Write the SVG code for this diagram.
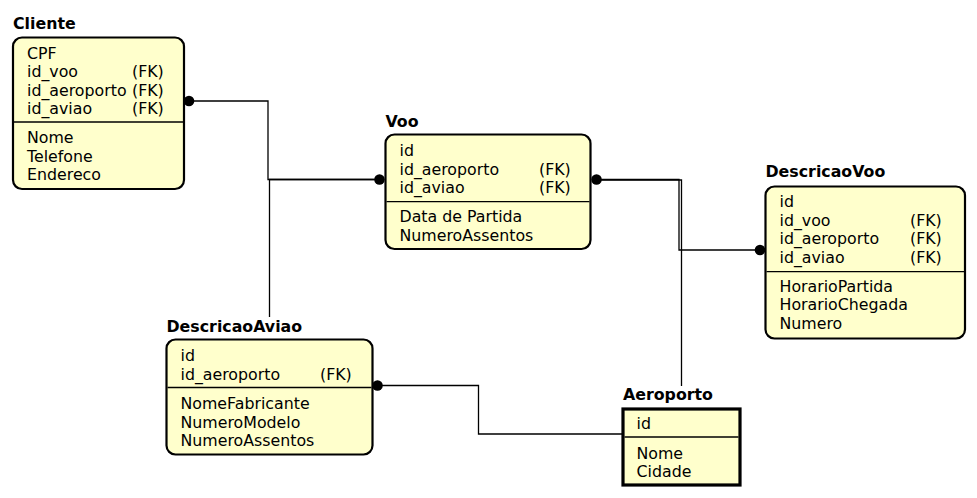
<svg xmlns="http://www.w3.org/2000/svg" width="977" height="498" viewBox="0 0 977 498">
<style>
.box{fill:#ffffcc;stroke:#000;stroke-width:2.2}
.sq{fill:#ffffcc;stroke:#000;stroke-width:3.2}
.div{stroke:#000;stroke-width:1.3}
.t{font-family:"DejaVu Sans",sans-serif;font-size:15.8px;fill:#000}
.h{font-family:"DejaVu Sans",sans-serif;font-size:15.8px;font-weight:bold;fill:#000}
.c{fill:none;stroke:#000;stroke-width:1.3}
.dot{fill:#000}
</style>
<rect width="977" height="498" fill="#fff"/>
<g id="connectors">
<polyline class="c" points="189,101 268,101 268,179.5 380,179.5"/>
<polyline class="c" points="380,179.5 269.5,179.5 269.5,317"/>
<polyline class="c" points="596,179.5 679,179.5 679,250 760,250"/>
<polyline class="c" points="596,180 681.5,180 681.5,386"/>
<polyline class="c" points="377,385.5 478.5,385.5 478.5,434 622,434"/>
<circle class="dot" cx="189" cy="101" r="5.3"/>
<circle class="dot" cx="379.5" cy="179.5" r="5.3"/>
<circle class="dot" cx="596.5" cy="179.5" r="5.3"/>
<circle class="dot" cx="760" cy="250" r="5.3"/>
<circle class="dot" cx="377.5" cy="385.5" r="5.3"/>
</g>
<g id="Cliente">
<text class="h" x="13" y="28.5">Cliente</text>
<rect class="box" x="13" y="37.5" width="171" height="151.5" rx="9"/>
<line class="div" x1="14" y1="122" x2="183" y2="122"/>
<text class="t" x="27" y="58.5">CPF</text>
<text class="t" x="27" y="77">id_voo</text><text class="t" x="132" y="77">(FK)</text>
<text class="t" x="27" y="95.5">id_aeroporto</text><text class="t" x="132" y="95.5">(FK)</text>
<text class="t" x="27" y="114">id_aviao</text><text class="t" x="132" y="114">(FK)</text>
<text class="t" x="27" y="143.3">Nome</text>
<text class="t" x="27" y="161.7">Telefone</text>
<text class="t" x="27" y="180">Endereco</text>
</g>
<g id="Voo">
<text class="h" x="385.5" y="126.5">Voo</text>
<rect class="box" x="385.5" y="134.5" width="205" height="114.5" rx="9"/>
<line class="div" x1="386.5" y1="201.7" x2="589.5" y2="201.7"/>
<text class="t" x="399.5" y="156.2">id</text>
<text class="t" x="399.5" y="174.7">id_aeroporto</text><text class="t" x="539" y="174.7">(FK)</text>
<text class="t" x="399.5" y="193">id_aviao</text><text class="t" x="539" y="193">(FK)</text>
<text class="t" x="399.5" y="222.3">Data de Partida</text>
<text class="t" x="399.5" y="240.5">NumeroAssentos</text>
</g>
<g id="DescricaoVoo">
<text class="h" x="765.5" y="177">DescricaoVoo</text>
<rect class="box" x="765.5" y="186.5" width="199.5" height="152" rx="9"/>
<line class="div" x1="766.5" y1="271.7" x2="964" y2="271.7"/>
<text class="t" x="779.5" y="207">id</text>
<text class="t" x="779.5" y="225.7">id_voo</text><text class="t" x="910" y="225.7">(FK)</text>
<text class="t" x="779.5" y="244.3">id_aeroporto</text><text class="t" x="910" y="244.3">(FK)</text>
<text class="t" x="779.5" y="263">id_aviao</text><text class="t" x="910" y="263">(FK)</text>
<text class="t" x="779.5" y="291.7">HorarioPartida</text>
<text class="t" x="779.5" y="310">HorarioChegada</text>
<text class="t" x="779.5" y="328.5">Numero</text>
</g>
<g id="DescricaoAviao">
<text class="h" x="166.5" y="332">DescricaoAviao</text>
<rect class="box" x="166.5" y="339.5" width="206" height="115" rx="9"/>
<line class="div" x1="167.5" y1="387.5" x2="371.5" y2="387.5"/>
<text class="t" x="180.5" y="361">id</text>
<text class="t" x="180.5" y="380">id_aeroporto</text><text class="t" x="320" y="380">(FK)</text>
<text class="t" x="180.5" y="409.3">NomeFabricante</text>
<text class="t" x="180.5" y="427.7">NumeroModelo</text>
<text class="t" x="180.5" y="446">NumeroAssentos</text>
</g>
<g id="Aeroporto">
<text class="h" x="623" y="399.5">Aeroporto</text>
<rect class="sq" x="623" y="409" width="117" height="76"/>
<line class="div" x1="624.5" y1="437" x2="738.5" y2="437"/>
<text class="t" x="636.5" y="428.5">id</text>
<text class="t" x="636.5" y="459">Nome</text>
<text class="t" x="636.5" y="477.4">Cidade</text>
</g>
</svg>
